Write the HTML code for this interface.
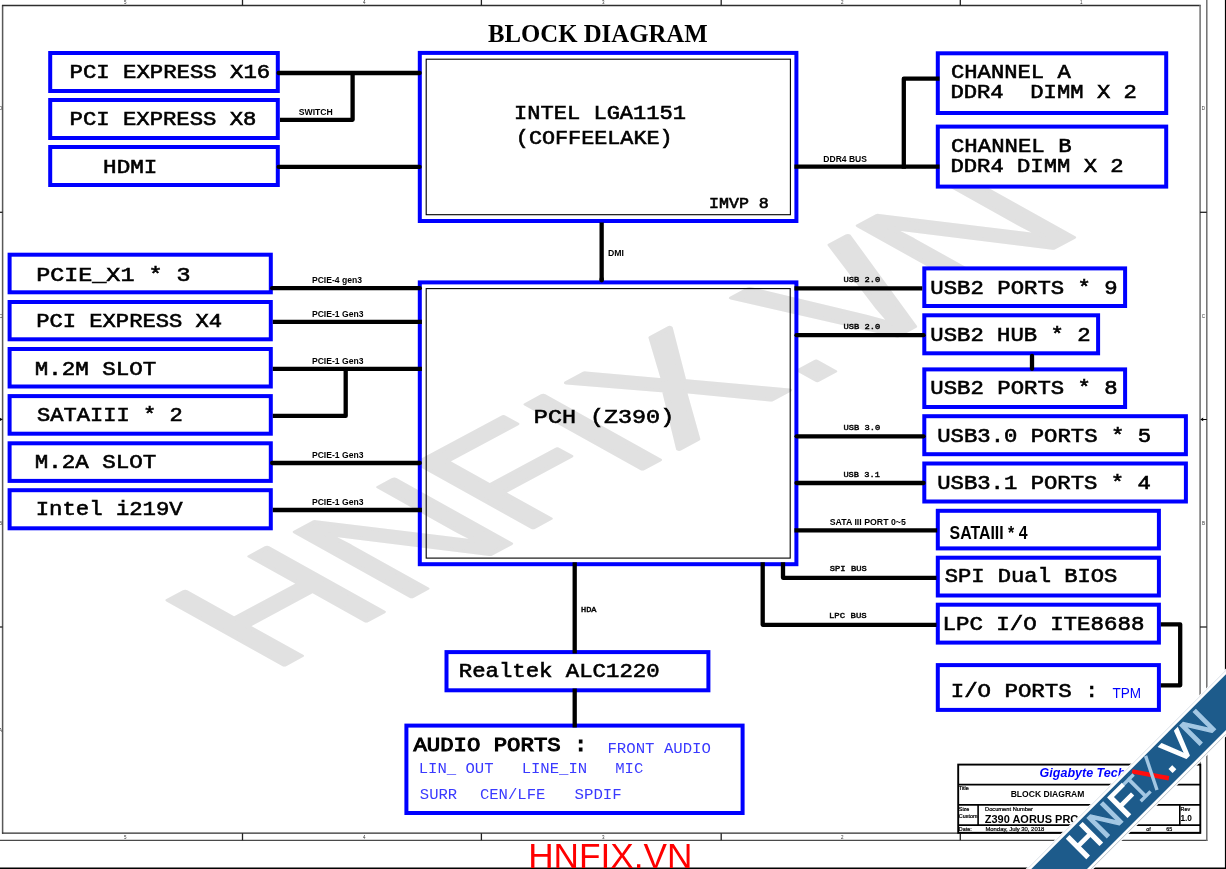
<!DOCTYPE html>
<html><head><meta charset="utf-8"><title>Block Diagram</title>
<style>
html,body{margin:0;padding:0;background:#fff;}
body{width:1226px;height:869px;overflow:hidden;}
svg{display:block;will-change:transform;}
text{white-space:pre;}
.m{font-family:"Liberation Mono",monospace;font-weight:normal;fill:#000;stroke:#000;stroke-width:0.6px;}
.hv{stroke-width:1.0px;}
.sm{stroke-width:0.4px;}
.mr{font-family:"Liberation Mono",monospace;font-weight:normal;fill:#3a3aff;}
.sb{font-family:"Liberation Sans",sans-serif;font-weight:bold;fill:#000;}
.s{font-family:"Liberation Sans",sans-serif;fill:#000;}
.zn{font-family:"Liberation Sans",sans-serif;font-size:4.5px;fill:#333;}
.tpm{fill:#0000ff;}
.ty{stroke:#000;stroke-width:0.22px;}
.gt{fill:#0000ff;font-style:italic;}
.red{fill:#ff0000;}
.rb{font-family:"Liberation Sans",sans-serif;font-size:40px;letter-spacing:0.35px;fill:#fff;stroke:#fff;stroke-width:1.4px;}
.lb{fill:#a3c7e3;stroke:#a3c7e3;}
.nx{fill:none;stroke:none;}
.ti{font-family:"Liberation Serif",serif;font-weight:bold;fill:#000;}
</style></head><body>
<svg width="1226" height="869" viewBox="0 0 1226 869">
<rect width="1226" height="869" fill="#fff"/>
<g transform="matrix(1.7600,-0.9450,1.6830,0.9380,270.10,672.50)"><text x="0" y="0" dx="0 0 -1.2 0 0 2.07 -0.87 -0.33" dy="0 0 -2.0 0 0 2.89 -0.89 -2.19" font-family="Liberation Sans, sans-serif" font-size="100" fill="#e1e1e1" stroke="#e1e1e1" stroke-width="2.5" stroke-linejoin="round">HNFIX.VN</text></g>
<polyline points="2.60,4.90 2.60,833.80" fill="none" stroke="#585858" stroke-width="1.5" stroke-linejoin="round"/>
<polyline points="2.00,5.50 1200.70,5.50" fill="none" stroke="#2e2e2e" stroke-width="1.3" stroke-linejoin="round"/>
<polyline points="2.00,833.20 1200.70,833.20" fill="none" stroke="#2e2e2e" stroke-width="1.3" stroke-linejoin="round"/>
<polyline points="1200.10,4.90 1200.10,833.80" fill="none" stroke="#707070" stroke-width="1.5" stroke-linejoin="round"/>
<polyline points="0.00,840.30 1207.40,840.30" fill="none" stroke="#4a4a4a" stroke-width="1.3" stroke-linejoin="round"/>
<polyline points="1206.80,0.00 1206.80,840.90" fill="none" stroke="#707070" stroke-width="1.5" stroke-linejoin="round"/>
<polyline points="242.50,0.00 242.50,5.50" fill="none" stroke="#222" stroke-width="1.3" stroke-linejoin="round"/>
<polyline points="242.50,833.20 242.50,840.30" fill="none" stroke="#222" stroke-width="1.3" stroke-linejoin="round"/>
<polyline points="481.40,0.00 481.40,5.50" fill="none" stroke="#222" stroke-width="1.3" stroke-linejoin="round"/>
<polyline points="481.40,833.20 481.40,840.30" fill="none" stroke="#222" stroke-width="1.3" stroke-linejoin="round"/>
<polyline points="721.20,0.00 721.20,5.50" fill="none" stroke="#222" stroke-width="1.3" stroke-linejoin="round"/>
<polyline points="721.20,833.20 721.20,840.30" fill="none" stroke="#222" stroke-width="1.3" stroke-linejoin="round"/>
<polyline points="960.30,0.00 960.30,5.50" fill="none" stroke="#222" stroke-width="1.3" stroke-linejoin="round"/>
<polyline points="960.30,833.20 960.30,840.30" fill="none" stroke="#222" stroke-width="1.3" stroke-linejoin="round"/>
<polyline points="0.00,212.30 2.60,212.30" fill="none" stroke="#222" stroke-width="1.3" stroke-linejoin="round"/>
<polyline points="1200.00,212.30 1206.80,212.30" fill="none" stroke="#222" stroke-width="1.3" stroke-linejoin="round"/>
<polyline points="0.00,419.40 2.60,419.40" fill="none" stroke="#222" stroke-width="1.3" stroke-linejoin="round"/>
<polyline points="0.00,627.00 2.60,627.00" fill="none" stroke="#222" stroke-width="1.3" stroke-linejoin="round"/>
<polyline points="1200.00,627.00 1206.80,627.00" fill="none" stroke="#222" stroke-width="1.3" stroke-linejoin="round"/>
<path d="M1200.3 419.4 L1203.2 417.6 L1203.2 419 L1206.8 419 L1206.8 419.9 L1203.2 419.9 L1203.2 421.2 Z" fill="#000"/>
<path d="M2.4 419.4 L0 417.8 L0 421 Z" fill="#000"/>
<text x="124.00" y="4.20" class="zn" >5</text>
<text x="124.00" y="839.00" class="zn" >5</text>
<text x="363.00" y="4.20" class="zn" >4</text>
<text x="363.00" y="839.00" class="zn" >4</text>
<text x="602.00" y="4.20" class="zn" >3</text>
<text x="602.00" y="839.00" class="zn" >3</text>
<text x="841.00" y="4.20" class="zn" >2</text>
<text x="841.00" y="839.00" class="zn" >2</text>
<text x="1080.00" y="4.20" class="zn" >1</text>
<text x="1080.00" y="839.00" class="zn" >1</text>
<text x="1203.40" y="109.80" class="zn" text-anchor="middle">D</text>
<text x="0.60" y="109.80" class="zn" text-anchor="middle">D</text>
<text x="1203.40" y="317.50" class="zn" text-anchor="middle">C</text>
<text x="0.60" y="317.50" class="zn" text-anchor="middle">C</text>
<text x="1203.40" y="525.00" class="zn" text-anchor="middle">B</text>
<text x="0.60" y="525.00" class="zn" text-anchor="middle">B</text>
<text x="1203.40" y="732.00" class="zn" text-anchor="middle">A</text>
<text x="0.60" y="732.00" class="zn" text-anchor="middle">A</text>
<polyline points="1225.60,0.00 1225.60,869.00" fill="none" stroke="#000" stroke-width="1.4" stroke-linejoin="round"/>
<polyline points="0.00,868.30 1226.00,868.30" fill="none" stroke="#000" stroke-width="1.6" stroke-linejoin="round"/>
<rect x="50.20" y="53.00" width="227.60" height="38.00" fill="#fff" stroke="#0000ff" stroke-width="4"/>
<rect x="50.20" y="100.00" width="227.60" height="38.00" fill="#fff" stroke="#0000ff" stroke-width="4"/>
<rect x="50.20" y="147.00" width="227.60" height="38.00" fill="#fff" stroke="#0000ff" stroke-width="4"/>
<rect x="9.60" y="254.70" width="261.20" height="37.60" fill="#fff" stroke="#0000ff" stroke-width="4"/>
<rect x="9.60" y="302.00" width="261.20" height="37.30" fill="#fff" stroke="#0000ff" stroke-width="4"/>
<rect x="9.60" y="349.00" width="261.20" height="37.50" fill="#fff" stroke="#0000ff" stroke-width="4"/>
<rect x="9.60" y="396.10" width="261.20" height="37.60" fill="#fff" stroke="#0000ff" stroke-width="4"/>
<rect x="9.60" y="443.30" width="261.20" height="37.60" fill="#fff" stroke="#0000ff" stroke-width="4"/>
<rect x="9.60" y="490.20" width="261.20" height="38.10" fill="#fff" stroke="#0000ff" stroke-width="4"/>
<rect x="419.80" y="52.90" width="376.60" height="168.10" fill="#fff" stroke="#0000ff" stroke-width="4"/>
<rect x="426.2" y="59.2" width="364.2" height="155.5" fill="none" stroke="#000" stroke-width="1.1"/>
<rect x="419.80" y="282.40" width="376.60" height="281.80" fill="none" stroke="#0000ff" stroke-width="4"/>
<rect x="426.2" y="288.6" width="364.0" height="269.5" fill="none" stroke="#000" stroke-width="1.1"/>
<rect x="446.50" y="652.10" width="261.90" height="38.20" fill="#fff" stroke="#0000ff" stroke-width="4"/>
<rect x="406.40" y="725.60" width="336.20" height="87.40" fill="#fff" stroke="#0000ff" stroke-width="4"/>
<rect x="937.80" y="53.30" width="228.40" height="59.70" fill="#fff" stroke="#0000ff" stroke-width="4"/>
<rect x="937.80" y="126.60" width="228.40" height="60.00" fill="#fff" stroke="#0000ff" stroke-width="4"/>
<rect x="924.30" y="268.40" width="200.80" height="37.60" fill="#fff" stroke="#0000ff" stroke-width="4"/>
<rect x="924.30" y="315.30" width="173.80" height="38.00" fill="#fff" stroke="#0000ff" stroke-width="4"/>
<rect x="924.30" y="369.40" width="200.80" height="37.60" fill="#fff" stroke="#0000ff" stroke-width="4"/>
<rect x="924.30" y="416.20" width="261.60" height="38.00" fill="#fff" stroke="#0000ff" stroke-width="4"/>
<rect x="924.30" y="463.50" width="261.60" height="38.00" fill="#fff" stroke="#0000ff" stroke-width="4"/>
<rect x="937.80" y="510.80" width="221.10" height="37.60" fill="#fff" stroke="#0000ff" stroke-width="4"/>
<rect x="937.80" y="557.70" width="221.10" height="37.80" fill="#fff" stroke="#0000ff" stroke-width="4"/>
<rect x="937.80" y="604.70" width="221.10" height="37.90" fill="#fff" stroke="#0000ff" stroke-width="4"/>
<rect x="937.80" y="665.10" width="221.10" height="44.80" fill="#fff" stroke="#0000ff" stroke-width="4"/>
<polyline points="278.65,73.00 419.65,73.00" fill="none" stroke="#000" stroke-width="4.3" stroke-linejoin="round" stroke-linecap="round"/>
<polyline points="280.00,119.80 352.60,119.80 352.60,73.00" fill="none" stroke="#000" stroke-width="4.3" stroke-linejoin="round"/>
<polyline points="278.65,166.90 419.65,166.90" fill="none" stroke="#000" stroke-width="4.3" stroke-linejoin="round" stroke-linecap="round"/>
<polyline points="794.40,166.60 939.50,166.60" fill="none" stroke="#000" stroke-width="4.3" stroke-linejoin="round"/>
<polyline points="939.50,78.70 903.80,78.70 903.80,168.70" fill="none" stroke="#000" stroke-width="4.3" stroke-linejoin="round"/>
<polyline points="601.65,222.50 601.65,280.50" fill="none" stroke="#000" stroke-width="4.3" stroke-linejoin="round"/>
<polyline points="601.65,279.00 601.65,280.45" fill="none" stroke="#000" stroke-width="4.3" stroke-linejoin="round" stroke-linecap="round"/>
<polyline points="272.15,288.20 419.75,288.20" fill="none" stroke="#000" stroke-width="4.3" stroke-linejoin="round" stroke-linecap="round"/>
<polyline points="272.80,321.80 421.90,321.80" fill="none" stroke="#000" stroke-width="4.3" stroke-linejoin="round"/>
<polyline points="272.80,368.80 421.90,368.80" fill="none" stroke="#000" stroke-width="4.3" stroke-linejoin="round"/>
<polyline points="272.80,415.90 345.70,415.90 345.70,368.80" fill="none" stroke="#000" stroke-width="4.3" stroke-linejoin="round"/>
<polyline points="272.15,463.00 419.75,463.00" fill="none" stroke="#000" stroke-width="4.3" stroke-linejoin="round" stroke-linecap="round"/>
<polyline points="272.80,510.00 421.90,510.00" fill="none" stroke="#000" stroke-width="4.3" stroke-linejoin="round"/>
<polyline points="794.40,288.30 922.30,288.30" fill="none" stroke="#000" stroke-width="4.3" stroke-linejoin="round"/>
<polyline points="796.55,335.20 923.55,335.20" fill="none" stroke="#000" stroke-width="4.3" stroke-linejoin="round" stroke-linecap="round"/>
<polyline points="796.55,436.30 923.55,436.30" fill="none" stroke="#000" stroke-width="4.3" stroke-linejoin="round" stroke-linecap="round"/>
<polyline points="796.55,483.00 923.55,483.00" fill="none" stroke="#000" stroke-width="4.3" stroke-linejoin="round" stroke-linecap="round"/>
<polyline points="794.40,530.40 937.20,530.40" fill="none" stroke="#000" stroke-width="4.3" stroke-linejoin="round"/>
<polyline points="783.00,562.30 783.00,577.80 936.50,577.80" fill="none" stroke="#000" stroke-width="4.3" stroke-linejoin="round"/>
<polyline points="762.70,562.30 762.70,624.80 936.50,624.80" fill="none" stroke="#000" stroke-width="4.3" stroke-linejoin="round"/>
<polyline points="574.70,562.30 574.70,653.50" fill="none" stroke="#000" stroke-width="4.3" stroke-linejoin="round"/>
<polyline points="574.70,688.50 574.70,727.50" fill="none" stroke="#000" stroke-width="4.3" stroke-linejoin="round"/>
<polyline points="1032.00,355.85 1032.00,368.85" fill="none" stroke="#000" stroke-width="4.3" stroke-linejoin="round" stroke-linecap="round"/>
<polyline points="1160.80,624.30 1180.20,624.30 1180.20,685.30 1160.80,685.30" fill="none" stroke="#000" stroke-width="4.3" stroke-linejoin="round"/>
<rect x="958.2" y="764.6" width="242.10" height="68.20" fill="#fff" stroke="#000" stroke-width="1.9"/>
<polyline points="958.20,784.60 1200.30,784.60" fill="none" stroke="#000" stroke-width="1.8" stroke-linejoin="round"/>
<polyline points="958.20,804.90 1200.30,804.90" fill="none" stroke="#000" stroke-width="1.8" stroke-linejoin="round"/>
<polyline points="958.20,825.10 1200.30,825.10" fill="none" stroke="#000" stroke-width="1.8" stroke-linejoin="round"/>
<polyline points="978.10,804.90 978.10,825.10" fill="none" stroke="#000" stroke-width="1.6" stroke-linejoin="round"/>
<polyline points="1179.80,804.90 1179.80,825.10" fill="none" stroke="#000" stroke-width="1.6" stroke-linejoin="round"/>
<text x="1039.60" y="777.30" class="sb gt" style="font-size:12.5px" >Gigabyte Technology</text>
<text x="958.80" y="790.30" class="s ty" style="font-size:5.4px" >Title</text>
<text x="958.80" y="810.70" class="s ty" style="font-size:5.4px" >Size</text>
<text x="958.80" y="817.70" class="s ty" style="font-size:5.4px" >Custom</text>
<text x="985.00" y="810.70" class="s ty" style="font-size:5.72px" >Document Number</text>
<text x="1180.60" y="810.70" class="s ty" style="font-size:5.4px" >Rev</text>
<text x="1180.40" y="821.10" class="sb" style="font-size:8.3px" >1.0</text>
<text x="958.80" y="831.00" class="s ty" style="font-size:5.4px" >Date:</text>
<text x="985.40" y="831.00" class="s ty" style="font-size:5.9px" >Monday, July 30, 2018</text>
<text x="1090.00" y="831.00" class="s ty" style="font-size:5.4px" >Sheet</text>
<text x="1126.00" y="831.00" class="s ty" style="font-size:5.4px" >3</text>
<text x="1146.20" y="831.00" class="s ty" style="font-size:5.4px" >of</text>
<text x="1166.20" y="831.00" class="s ty" style="font-size:5.4px" >65</text>
<text x="69.61" y="78.30" class="m" style="font-size:20.0px" textLength="200.64" lengthAdjust="spacingAndGlyphs">PCI EXPRESS X16</text>
<text x="69.61" y="125.30" class="m" style="font-size:20.0px" textLength="186.84" lengthAdjust="spacingAndGlyphs">PCI EXPRESS X8</text>
<text x="103.09" y="172.50" class="m" style="font-size:20.0px" textLength="54.31" lengthAdjust="spacingAndGlyphs">HDMI</text>
<text x="36.18" y="280.60" class="m" style="font-size:20.6px" textLength="154.40" lengthAdjust="spacingAndGlyphs">PCIE_X1 * 3</text>
<text x="36.22" y="326.80" class="m" style="font-size:20.0px" textLength="185.85" lengthAdjust="spacingAndGlyphs">PCI EXPRESS X4</text>
<text x="34.68" y="374.50" class="m" style="font-size:20.0px" textLength="121.52" lengthAdjust="spacingAndGlyphs">M.2M SLOT</text>
<text x="37.05" y="421.10" class="m" style="font-size:20.0px" textLength="145.79" lengthAdjust="spacingAndGlyphs">SATAIII * 2</text>
<text x="34.68" y="468.30" class="m" style="font-size:20.0px" textLength="121.52" lengthAdjust="spacingAndGlyphs">M.2A SLOT</text>
<text x="35.65" y="515.20" class="m" style="font-size:20.0px" textLength="147.11" lengthAdjust="spacingAndGlyphs">Intel i219V</text>
<text x="513.97" y="118.90" class="m" style="font-size:20.0px" textLength="172.09" lengthAdjust="spacingAndGlyphs">INTEL LGA1151</text>
<text x="515.83" y="143.90" class="m" style="font-size:20.0px" textLength="156.76" lengthAdjust="spacingAndGlyphs">(COFFEELAKE)</text>
<text x="708.99" y="208.20" class="m" style="font-size:14.74px" textLength="59.83" lengthAdjust="spacingAndGlyphs">IMVP 8</text>
<text x="533.87" y="422.90" class="m" style="font-size:20.45px" textLength="140.34" lengthAdjust="spacingAndGlyphs">PCH (Z390)</text>
<text x="458.81" y="677.30" class="m" style="font-size:20.0px" textLength="200.74" lengthAdjust="spacingAndGlyphs">Realtek ALC1220</text>
<text x="950.97" y="78.00" class="m" style="font-size:20.0px" textLength="119.79" lengthAdjust="spacingAndGlyphs">CHANNEL A</text>
<text x="950.41" y="98.30" class="m" style="font-size:20.0px" textLength="186.43" lengthAdjust="spacingAndGlyphs">DDR4  DIMM X 2</text>
<text x="950.96" y="152.00" class="m" style="font-size:20.0px" textLength="120.63" lengthAdjust="spacingAndGlyphs">CHANNEL B</text>
<text x="950.41" y="172.20" class="m" style="font-size:20.0px" textLength="173.23" lengthAdjust="spacingAndGlyphs">DDR4 DIMM X 2</text>
<text x="930.39" y="293.70" class="m" style="font-size:20.0px" textLength="187.26" lengthAdjust="spacingAndGlyphs">USB2 PORTS * 9</text>
<text x="930.39" y="340.70" class="m" style="font-size:20.0px" textLength="160.16" lengthAdjust="spacingAndGlyphs">USB2 HUB * 2</text>
<text x="930.39" y="394.40" class="m" style="font-size:20.0px" textLength="187.26" lengthAdjust="spacingAndGlyphs">USB2 PORTS * 8</text>
<text x="937.19" y="442.00" class="m" style="font-size:20.0px" textLength="213.86" lengthAdjust="spacingAndGlyphs">USB3.0 PORTS * 5</text>
<text x="937.19" y="489.30" class="m" style="font-size:20.0px" textLength="213.58" lengthAdjust="spacingAndGlyphs">USB3.1 PORTS * 4</text>
<text x="944.65" y="582.40" class="m" style="font-size:20.0px" textLength="172.72" lengthAdjust="spacingAndGlyphs">SPI Dual BIOS</text>
<text x="942.56" y="629.80" class="m" style="font-size:20.0px" textLength="201.80" lengthAdjust="spacingAndGlyphs">LPC I/O ITE8688</text>
<text x="950.74" y="697.40" class="m" style="font-size:20.0px" textLength="147.73" lengthAdjust="spacingAndGlyphs">I/O PORTS :</text>
<text x="413.43" y="751.30" class="m hv" style="font-size:20.15px" textLength="174.01" lengthAdjust="spacingAndGlyphs">AUDIO PORTS :</text>
<text x="843.43" y="282.00" class="m sm" style="font-size:7.97px" textLength="36.83" lengthAdjust="spacingAndGlyphs">USB 2.0</text>
<text x="843.43" y="329.00" class="m sm" style="font-size:7.97px" textLength="36.83" lengthAdjust="spacingAndGlyphs">USB 2.0</text>
<text x="843.43" y="429.60" class="m sm" style="font-size:7.97px" textLength="36.83" lengthAdjust="spacingAndGlyphs">USB 3.0</text>
<text x="843.43" y="477.20" class="m sm" style="font-size:7.97px" textLength="36.43" lengthAdjust="spacingAndGlyphs">USB 3.1</text>
<text x="829.80" y="571.00" class="m sm" style="font-size:7.97px" textLength="36.96" lengthAdjust="spacingAndGlyphs">SPI BUS</text>
<text x="828.95" y="618.00" class="m sm" style="font-size:7.97px" textLength="37.81" lengthAdjust="spacingAndGlyphs">LPC BUS</text>
<text x="581.04" y="611.80" class="m sm" style="font-size:7.67px" textLength="15.53" lengthAdjust="spacingAndGlyphs">HDA</text>
<text x="607.45" y="752.80" class="mr" style="font-size:14.55px" textLength="103.49" lengthAdjust="spacingAndGlyphs">FRONT AUDIO</text>
<text x="418.72" y="773.00" class="mr" style="font-size:14.55px" textLength="224.60" lengthAdjust="spacingAndGlyphs">LIN_ OUT   LINE_IN   MIC</text>
<text x="419.80" y="799.40" class="mr" style="font-size:14.55px" textLength="37.35" lengthAdjust="spacingAndGlyphs">SURR</text>
<text x="479.90" y="799.40" class="mr" style="font-size:14.55px" textLength="65.53" lengthAdjust="spacingAndGlyphs">CEN/LFE</text>
<text x="574.49" y="799.40" class="mr" style="font-size:14.55px" textLength="47.29" lengthAdjust="spacingAndGlyphs">SPDIF</text>
<text x="298.76" y="114.55" class="sb" style="font-size:8.84px" textLength="34.11" lengthAdjust="spacingAndGlyphs">SWITCH</text>
<text x="823.33" y="161.60" class="sb" style="font-size:8.99px" textLength="43.59" lengthAdjust="spacingAndGlyphs">DDR4 BUS</text>
<text x="607.92" y="255.85" class="sb" style="font-size:8.99px" textLength="15.94" lengthAdjust="spacingAndGlyphs">DMI</text>
<text x="311.93" y="283.20" class="sb" style="font-size:9.13px" textLength="50.11" lengthAdjust="spacingAndGlyphs">PCIE-4 gen3</text>
<text x="311.93" y="316.65" class="sb" style="font-size:9.13px" textLength="51.64" lengthAdjust="spacingAndGlyphs">PCIE-1 Gen3</text>
<text x="311.93" y="363.60" class="sb" style="font-size:9.13px" textLength="51.64" lengthAdjust="spacingAndGlyphs">PCIE-1 Gen3</text>
<text x="311.93" y="457.80" class="sb" style="font-size:9.13px" textLength="51.64" lengthAdjust="spacingAndGlyphs">PCIE-1 Gen3</text>
<text x="311.93" y="504.70" class="sb" style="font-size:9.13px" textLength="51.64" lengthAdjust="spacingAndGlyphs">PCIE-1 Gen3</text>
<text x="829.76" y="525.00" class="sb" style="font-size:9.28px" textLength="76.08" lengthAdjust="spacingAndGlyphs">SATA III PORT 0~5</text>
<text x="949.59" y="539.10" class="sb" style="font-size:19.28px" textLength="77.96" lengthAdjust="spacingAndGlyphs">SATAIII * 4</text>
<text x="1010.63" y="797.10" class="sb" style="font-size:9.13px" textLength="73.81" lengthAdjust="spacingAndGlyphs">BLOCK DIAGRAM</text>
<text x="984.75" y="823.00" class="sb" style="font-size:10.87px" textLength="94.15" lengthAdjust="spacingAndGlyphs">Z390 AORUS PRO</text>
<text x="488.00" y="41.80" class="ti" style="font-size:25.4px" textLength="219.6" lengthAdjust="spacingAndGlyphs">BLOCK DIAGRAM</text>
<text x="1112.50" y="698.10" class="s tpm" style="font-size:14.6px" textLength="28.6" lengthAdjust="spacingAndGlyphs">TPM</text>
<text x="528.20" y="868.10" class="s red" style="font-size:35.7px" textLength="164.3" lengthAdjust="spacingAndGlyphs">HNFIX.VN</text>
<polygon points="1025.6,869 1226,668.6 1226,736.4 1093.4,869" fill="#fff"/>
<polygon points="1031.3,869 1226,674.3 1226,730.0 1087,869" fill="#1d5b8b"/>
<line x1="1091.2" y1="869" x2="1226" y2="734.2" stroke="#8d9aa6" stroke-width="0.6"/>
<line x1="1027.3" y1="869" x2="1226" y2="670.3" stroke="#c3ccd6" stroke-width="0.6"/>
<line x1="1132.1" y1="771.4" x2="1168.9" y2="778.2" stroke="#ff0d0d" stroke-width="4.5"/>
<line x1="1145.6" y1="755.9" x2="1157.0" y2="790.0" stroke="#a3c7e3" stroke-width="3.4"/>
<g transform="translate(1083.9,860.5) rotate(-45)">
<text x="0" y="0" class="rb">H<tspan class="lb">N</tspan>F<tspan class="nx">IX</tspan>.V<tspan class="lb">N</tspan></text>
<path d="M87.2 -27.4 H90.9 V0 H87.2 Z M82 -27.4 H96 V-24 H82 Z M82 -3.4 H96 V0 H82 Z" fill="#a3c7e3"/>
</g>
</svg>
</body></html>
